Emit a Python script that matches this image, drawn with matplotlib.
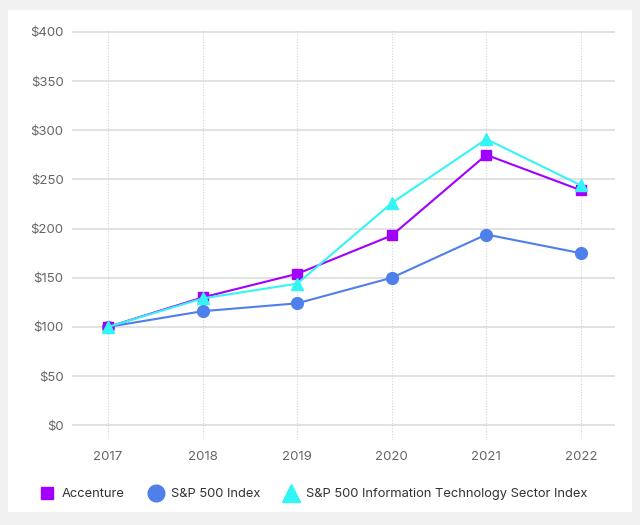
import matplotlib.pyplot as plt
from matplotlib.lines import Line2D

plt.rcParams['font.family'] = ['Inter', 'DejaVu Sans']

years = [2017, 2018, 2019, 2020, 2021, 2022]
accenture = [100, 130, 154, 193, 275, 239]
sp500 = [100, 116, 124, 150, 194, 175]
sp500_it = [100, 129, 144, 226, 291, 244]
y_ticks = [0, 50, 100, 150, 200, 250, 300, 350, 400]

c_acn = '#a100ff'
c_sp = '#4f7fea'
c_it = '#33f5f5'

fig = plt.figure(figsize=(6.4, 5.25), dpi=100)
fig.patch.set_facecolor('#f1f1f1')

# white card behind the chart
bg = fig.add_axes([8 / 640, 1 - 512 / 525, 624 / 640, 502 / 525])
bg.set_facecolor('white')
bg.set_xticks([])
bg.set_yticks([])
for s in bg.spines.values():
    s.set_visible(False)

ax = fig.add_axes([72 / 640, 1 - 440 / 525, 543 / 640, 410 / 525])
ax.set_facecolor('none')

ax.plot(years, sp500, color=c_sp, lw=1.5, marker='o', ms=8.5, zorder=3)
ax.plot(years, accenture, color=c_acn, lw=1.5, marker='s', ms=6.5, zorder=4)
ax.plot(years, sp500_it, color=c_it, lw=1.5, marker='^', ms=9, zorder=5)

ax.set_xlim(2016.62, 2022.36)
ax.set_ylim(-15, 402)
ax.set_xticks(years)
ax.set_yticks(y_ticks)
ax.set_yticklabels([f'${v}' for v in y_ticks])

for s in ax.spines.values():
    s.set_visible(False)
ax.tick_params(length=0, labelsize=9.5, colors='#666666')
ax.tick_params(axis='y', pad=6)
ax.tick_params(axis='x', pad=8)

for v in y_ticks:
    ax.axhline(v, color='#dddddd', lw=1.2, zorder=1)
for yr in years:
    ax.axvline(yr, color='#d4d4d4', lw=0.8, ls=(0, (1, 1.5)), zorder=1)

handles = [
    Line2D([], [], ls='none', marker='s', ms=8, color=c_acn),
    Line2D([], [], ls='none', marker='o', ms=12, color=c_sp),
    Line2D([], [], ls='none', marker='^', ms=13, color=c_it),
]
labels = ['Accenture', 'S&P 500 Index', 'S&P 500 Information Technology Sector Index']
fig.legend(handles, labels, loc='center left', bbox_to_anchor=(25 / 640, 1 - 494 / 525),
           ncol=3, frameon=False, fontsize=9.3, handletextpad=0.35, columnspacing=1.6,
           handlelength=1.6, labelcolor='#333333')

fig.savefig('out.png', dpi=100, facecolor=fig.get_facecolor())
